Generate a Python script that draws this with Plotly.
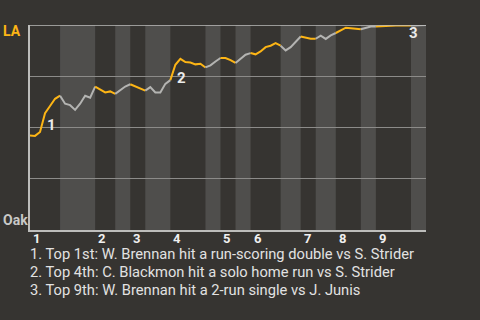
import plotly.graph_objects as go

# win probability for LA after each play (0 = Oak, 1 = LA)
win_prob = [0.461, 0.459, 0.478, 0.570, 0.605, 0.640, 0.655, 0.616, 0.609, 0.586,
            0.616, 0.655, 0.645, 0.699, 0.684, 0.671, 0.676, 0.664, 0.681, 0.700,
            0.711, 0.700, 0.690, 0.680, 0.697, 0.671, 0.671, 0.713, 0.731, 0.806,
            0.835, 0.819, 0.817, 0.808, 0.811, 0.793, 0.803, 0.822, 0.839, 0.839,
            0.829, 0.815, 0.835, 0.855, 0.863, 0.857, 0.871, 0.892, 0.899, 0.912,
            0.899, 0.876, 0.892, 0.918, 0.944, 0.939, 0.933, 0.933, 0.948, 0.932,
            0.949, 0.961, 0.976, 0.987, 0.984, 0.982, 0.979, 0.987, 0.993, 0.993,
            0.993, 0.995, 0.996, 0.997, 0.997, 0.997, 0.998, 0.998, 0.999, 1.000]
plays = list(range(len(win_prob)))

# play index where each half inning starts (top 1st, bottom 1st, top 2nd, ...) plus the end
half_inning_starts = [0, 6, 13, 17, 20, 23, 28, 35, 38, 41, 44, 50, 54, 57, 61, 66, 69, 76, 79]
inning_labels = ["1", "2", "3", "4", "5", "6", "7", "8", "9"]

event_plays = [3, 29, 76]
event_labels = ["1", "2", "3"]
event_notes = [
    "1. Top 1st: W. Brennan hit a run-scoring double vs S. Strider",
    "2. Top 4th: C. Blackmon hit a solo home run vs S. Strider",
    "3. Top 9th: W. Brennan hit a 2-run single vs J. Junis",
]

team_top = "LA"
team_bottom = "Oak"

BG = "#363431"
BAND = "#4f4e4c"
ORANGE = "#fdb515"
GRAY = "#b4b4b2"
FONT = "Roboto"

fig = go.Figure()

shapes = []
n_half = len(half_inning_starts) - 1
for h in range(n_half):
    a, b = half_inning_starts[h], half_inning_starts[h + 1]
    if h % 2 == 1:
        shapes.append(dict(type="rect", xref="x", yref="paper", x0=a, x1=b, y0=0, y1=1,
                           fillcolor=BAND, line_width=0, layer="below"))
    seg_x = plays[a:b + 1]
    seg_y = win_prob[a:b + 1]
    fig.add_trace(go.Scatter(x=seg_x, y=seg_y, mode="lines",
                             line=dict(color=ORANGE if h % 2 == 0 else GRAY, width=2),
                             hoverinfo="skip", showlegend=False))

# top border line
shapes.append(dict(type="line", xref="paper", yref="y", x0=0, x1=1, y0=1, y1=1,
                   line=dict(color="#bdbdbb", width=1.5), layer="above"))

annotations = []
for k, lab in enumerate(inning_labels):
    annotations.append(dict(x=half_inning_starts[2 * k], y=0, xref="x", yref="paper",
                            text=lab, showarrow=False, xanchor="left", yanchor="middle",
                            xshift=1, yshift=-8,
                            font=dict(family=FONT, size=13, color="#f0f0f0", weight="bold")))

ev_shift = [(0, 7), (0, 2), (-4, -7)]
for k, (p, lab) in enumerate(zip(event_plays, event_labels)):
    annotations.append(dict(x=p, y=win_prob[p - 1], xref="x", yref="y", text=lab,
                            showarrow=False, xanchor="left", yanchor="middle",
                            xshift=ev_shift[k][0], yshift=ev_shift[k][1],
                            font=dict(family=FONT, size=15, color="#ebebeb", weight="bold")))

for k, note in enumerate(event_notes):
    annotations.append(dict(x=0, y=0, xref="paper", yref="paper", text=note,
                            showarrow=False, xanchor="left", yanchor="middle",
                            xshift=-2, yshift=-24 - 18 * k,
                            font=dict(family=FONT, size=14.7, color="#e2e2e2")))

annotations.append(dict(x=0, y=1, xref="paper", yref="paper", text=team_top, showarrow=False,
                        xanchor="left", yanchor="middle", xshift=-29, yshift=-6,
                        font=dict(family=FONT, size=14, color=ORANGE, weight="bold")))
annotations.append(dict(x=0, y=0, xref="paper", yref="paper", text=team_bottom, showarrow=False,
                        xanchor="left", yanchor="middle", xshift=-29, yshift=10,
                        font=dict(family=FONT, size=14, color="#c9c9c7", weight="bold")))

fig.update_layout(
    width=480, height=320,
    margin=dict(l=30, r=54, t=25, b=90),
    paper_bgcolor=BG, plot_bgcolor=BG,
    shapes=shapes, annotations=annotations,
    xaxis=dict(range=[0, plays[-1]], showgrid=False, zeroline=False, showticklabels=False,
               ticks="", showline=True, linecolor="#bdbdbb", linewidth=1.5),
    yaxis=dict(range=[0, 1], tickvals=[0.25, 0.5, 0.75], showticklabels=False, ticks="",
               gridcolor="#8c8b89", gridwidth=1, zeroline=False,
               showline=True, linecolor="#bdbdbb", linewidth=1.5),
)

fig.write_html("out.html")
